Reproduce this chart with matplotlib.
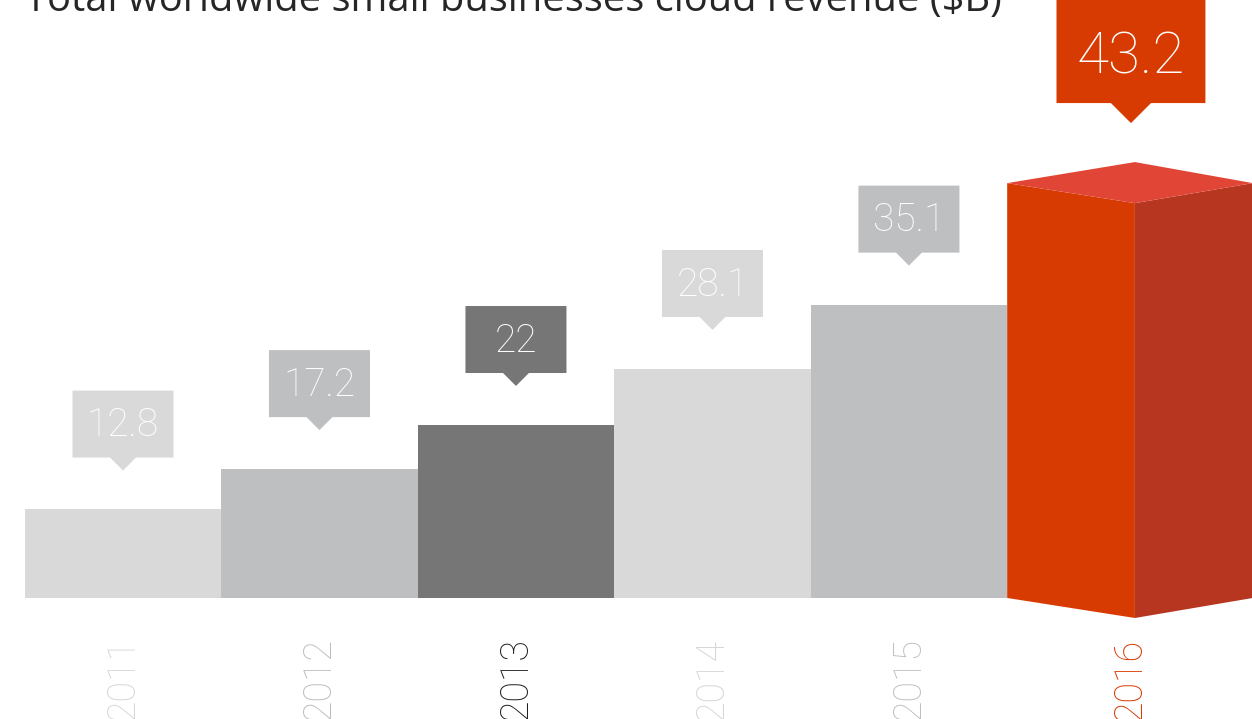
import matplotlib.pyplot as plt
from matplotlib.patches import Polygon

years = ["2011", "2012", "2013", "2014", "2015", "2016"]
revenue = [12.8, 17.2, 22, 28.1, 35.1, 43.2]
bar_colors = ["#d9d9d9", "#bebfc1", "#767676", "#d9d9d9", "#bebfc1", "#d83b01"]
year_colors = ["#d6d6d6", "#bdbdbd", "#1e1e1e", "#d6d6d6", "#c0c0c0", "#d83b01"]
title = "Total worldwide small businesses cloud revenue ($B)"

base = 3.17  # value sitting on the baseline
fig = plt.figure(figsize=(12.52, 7.19), dpi=100)
ax = fig.add_axes([0, 0, 1, 1])
ax.set_xlim(-0.626, 5.746)
ax.set_ylim(-10.0, 68.24)
ax.axis("off")

x = list(range(len(years)))

# flat bars 2011-2015
ax.bar(x[:-1], [v - base for v in revenue[:-1]], width=1.0, bottom=base,
       color=bar_colors[:-1], linewidth=0)


def callout(xc, ytip, w, h, ph, pw, color, text, size, text_dy):
    yb = ytip + ph
    pts = [(xc - w / 2, yb), (xc - pw, yb), (xc, ytip), (xc + pw, yb),
           (xc + w / 2, yb), (xc + w / 2, yb + h), (xc - w / 2, yb + h)]
    ax.add_patch(Polygon(pts, closed=True, facecolor=color, linewidth=0))
    ax.text(xc, yb + text_dy, text, ha="center", va="center", color="white",
            fontsize=size, family="Roboto", fontweight="light")


for i in x[:-1]:
    callout(i, revenue[i] + 4.24, 0.514, 7.29, 1.41, 0.066, bar_colors[i],
            f"{revenue[i]:g}", 28, 3.5)

# highlighted 2016 bar as a 3D column
left = x[-1] - 0.5
ridge = x[-1] + 0.15
right = 5.75
top = base + revenue[-1] * 1.045
dip, rise = 2.18, 2.29
ax.add_patch(Polygon([(left, base), (ridge, base - dip), (ridge, top - dip), (left, top)],
                     facecolor="#d83b01", linewidth=0))
ax.add_patch(Polygon([(ridge, base - dip), (right, base), (right, top), (ridge, top - dip)],
                     facecolor="#b73620", linewidth=0))
ax.add_patch(Polygon([(left, top), (ridge, top - dip), (right, top), (ridge, top + rise)],
                     facecolor="#e04535", linewidth=0))
callout(ridge - 0.02, top + rise + 4.24, 0.758, 14, 2.18, 0.102, "#d83b01",
        f"{revenue[-1]:g}", 42, 4.95)

# year labels
for i, (yr, c) in enumerate(zip(years, year_colors)):
    xp = ridge - 0.025 if i == len(years) - 1 else i
    ax.text(xp, -5.59, yr, rotation=90, ha="center", va="center", color=c,
            fontsize=27, family="Roboto", fontweight="light")

fig.text(0.02, 1 - 11 / 719, title, ha="left", va="baseline", fontsize=28.7,
         color="#262626", family="Open Sans")

fig.savefig("out.png", dpi=100)
